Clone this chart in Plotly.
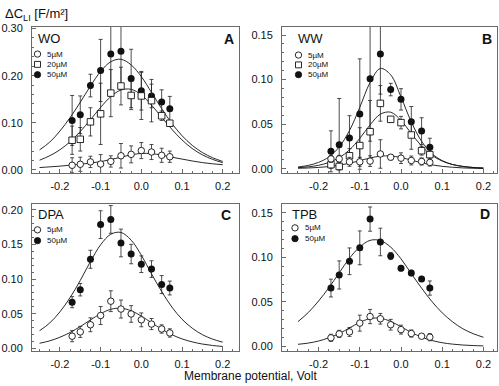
import plotly.graph_objects as go

# ---------------- data ----------------
x_pts = [-0.17, -0.15, -0.125, -0.1, -0.075, -0.05, -0.025, 0.0, 0.025, 0.05, 0.07]
x_fit = [-0.25, -0.225, -0.2, -0.175, -0.15, -0.125, -0.1, -0.075, -0.05, -0.025,
         0.0, 0.025, 0.05, 0.075, 0.1, 0.125, 0.15, 0.175, 0.2]

# Panel A (WO)
wo_5 = [0.0098, 0.012, 0.017, 0.0125, 0.018, 0.030, 0.033, 0.041, 0.038, 0.031, 0.028]
wo_5_err = [0.016, 0.015, 0.012, 0.02, 0.012, 0.026, 0.018, 0.017, 0.016, 0.015, 0.012]
wo_20 = [0.063, 0.065, 0.102, 0.119, 0.163, 0.178, 0.158, 0.157, 0.147, 0.115, 0.099]
wo_20_err = [0.03, 0.025, 0.03, 0.065, 0.05, 0.04, 0.03, 0.05, 0.045, 0.01, 0.005]
wo_50 = [0.105, 0.117, 0.179, 0.211, 0.246, 0.252, 0.194, 0.168, 0.157, 0.144, 0.130]
wo_50_err = [0.053, 0.04, 0.024, 0.066, 0.08, 0.08, 0.062, 0.041, 0.025, 0.026, 0.026]
wo_5_fit = [0.005, 0.0065, 0.008, 0.010, 0.012, 0.0145, 0.0175, 0.022, 0.027, 0.032,
            0.035, 0.0345, 0.0315, 0.027, 0.023, 0.019, 0.0155, 0.013, 0.011]
wo_20_fit = [0.0206, 0.0301, 0.0427, 0.0599, 0.0815, 0.1065, 0.1328, 0.1555, 0.1696, 0.171,
             0.1593, 0.1376, 0.1118, 0.0862, 0.0636, 0.0454, 0.032, 0.0224, 0.0153]
wo_50_fit = [0.0425, 0.059, 0.0825, 0.111, 0.1436, 0.178, 0.209, 0.2296, 0.2348, 0.2228,
             0.198, 0.1645, 0.130, 0.0987, 0.0726, 0.0522, 0.0369, 0.0259, 0.0179]

# Panel B (WW)
ww_5 = [0.011, 0.011, 0.0077, 0.0077, 0.0085, 0.0165, 0.0129, 0.0118, 0.0092, 0.0081, 0.007]
ww_5_err = [0.004, 0.004, 0.005, 0.005, 0.006, 0.016, 0.003, 0.006, 0.005, 0.004, 0.004]
ww_20 = [0.0045, 0.0025, 0.0145, 0.026, 0.0415, 0.0733, 0.0554, 0.0517, 0.0378, 0.0202, 0.0158]
ww_20_err = [0.004, 0.004, 0.008, 0.02, 0.035, 0.02, 0.003, 0.007, 0.016, 0.005, 0.005]
ww_50 = [0.0195, 0.0268, 0.0345, 0.0613, 0.1009, 0.1287, 0.0888, 0.0778, 0.0528, 0.0422, 0.0242]
ww_50_err = [0.023, 0.052, 0.025, 0.062, 0.07, 0.045, 0.007, 0.012, 0.017, 0.015, 0.010]
ww_5_fit = [0.0005, 0.0008, 0.0014, 0.0024, 0.0039, 0.0061, 0.009, 0.012, 0.0141, 0.0143,
            0.0125, 0.0096, 0.0066, 0.0043, 0.0026, 0.0016, 0.0009, 0.0005, 0.0003]
ww_20_fit = [0.0011, 0.0021, 0.0038, 0.0070, 0.0123, 0.0211, 0.0340, 0.0492, 0.0612, 0.0634,
             0.0542, 0.0396, 0.0254, 0.0150, 0.0086, 0.0047, 0.0026, 0.0014, 0.0008]
ww_50_fit = [0.0019, 0.0037, 0.0071, 0.0132, 0.0244, 0.0428, 0.0689, 0.0967, 0.1125, 0.1053,
             0.0805, 0.0525, 0.0307, 0.0171, 0.009, 0.0047, 0.0025, 0.0013, 0.0006]

# Panel C (DPA)
dpa_5 = [0.0175, 0.0237, 0.034, 0.0473, 0.068, 0.0567, 0.0496, 0.0411, 0.035, 0.0279, 0.0222]
dpa_5_err = [0.008, 0.008, 0.01, 0.013, 0.015, 0.013, 0.012, 0.01, 0.008, 0.006, 0.006]
dpa_50 = [0.0666, 0.0846, 0.1285, 0.1785, 0.186, 0.152, 0.136, 0.1214, 0.1143, 0.092, 0.087]
dpa_50_err = [0.008, 0.009, 0.013, 0.02, 0.02, 0.02, 0.014, 0.012, 0.012, 0.013, 0.01]
dpa_5_fit = [0.0073, 0.0108, 0.016, 0.0229, 0.0314, 0.0409, 0.05, 0.0563, 0.0579, 0.0542,
             0.0465, 0.037, 0.0277, 0.0197, 0.0136, 0.0093, 0.0062, 0.0041, 0.0027]
dpa_50_fit = [0.0254, 0.0366, 0.0526, 0.0732, 0.098, 0.1252, 0.1494, 0.1646, 0.1672, 0.1561,
              0.1344, 0.1075, 0.082, 0.0596, 0.042, 0.0291, 0.0197, 0.0133, 0.0089]

# Panel D (TPB)
tpb_5 = [0.0096, 0.014, 0.0162, 0.0261, 0.0335, 0.031, 0.0243, 0.0188, 0.0144, 0.0114, 0.0103]
tpb_5_err = [0.004, 0.004, 0.005, 0.009, 0.008, 0.006, 0.006, 0.005, 0.004, 0.002, 0.004]
tpb_50 = [0.0655, 0.0802, 0.0956, 0.1107, 0.143, 0.1173, 0.1015, 0.0879, 0.0824, 0.0758, 0.0655]
tpb_50_err = [0.01, 0.0158, 0.015, 0.019, 0.0136, 0.0155, 0.004, 0.003, 0.003, 0.002, 0.008]
tpb_5_fit = [0.0023, 0.0037, 0.006, 0.0096, 0.0144, 0.0207, 0.0269, 0.0312, 0.0316, 0.028,
             0.022, 0.0157, 0.0104, 0.0066, 0.0041, 0.0025, 0.0015, 0.0009, 0.0005]
tpb_50_fit = [0.0278, 0.038, 0.051, 0.0659, 0.0826, 0.099, 0.1117, 0.1191, 0.1189, 0.1115,
              0.0983, 0.0817, 0.0654, 0.0504, 0.0377, 0.0276, 0.0198, 0.0143, 0.0102]

panel_names = ["WO", "WW", "DPA", "TPB"]
panel_letters = ["A", "B", "C", "D"]
conc_labels = ["5\u00b5M", "20\u00b5M", "50\u00b5M"]
x_tickvals = [-0.2, -0.1, 0.0, 0.1, 0.2]
x_ticktext = ["-0.2", "-0.1", "0.0", "0.1", "0.2"]
yA_ticks = [0.0, 0.1, 0.2, 0.3]
yB_ticks = [0.0, 0.05, 0.10, 0.15]
yC_ticks = [0.0, 0.05, 0.10, 0.15, 0.20]
yD_ticks = [0.0, 0.05, 0.10, 0.15]

# ---------------- figure ----------------
W, H = 499, 386
FONT = "Arial, Liberation Sans, Helvetica, sans-serif"
INK = "#111111"
AX = "#6a6a6a"

def px(x):
    return x / W

def py(y):
    return 1 - y / H

fig = go.Figure()

axes = [("x", "y"), ("x2", "y2"), ("x3", "y3"), ("x4", "y4")]

def add_curve(i, xs, ys):
    xa, ya = axes[i]
    fig.add_trace(go.Scatter(x=xs, y=ys, mode="lines", xaxis=xa, yaxis=ya,
                             line=dict(color=INK, width=0.9, shape="spline", smoothing=1.0),
                             showlegend=False, hoverinfo="skip"))

def add_points(i, ys, err, kind):
    xa, ya = axes[i]
    if kind == "filled":
        marker = dict(symbol="circle", size=7, color=INK, line=dict(color=INK, width=0))
    elif kind == "circle":
        marker = dict(symbol="circle", size=6.5, color="white", line=dict(color=INK, width=0.9))
    else:
        marker = dict(symbol="square", size=6.5, color="white", line=dict(color=INK, width=0.9))
    fig.add_trace(go.Scatter(x=x_pts, y=ys, mode="markers", xaxis=xa, yaxis=ya,
                             marker=marker,
                             error_y=dict(type="data", array=err, visible=True,
                                          color="#222222", thickness=0.8, width=2),
                             showlegend=False, hoverinfo="skip"))

# Panel A
add_curve(0, x_fit, wo_5_fit)
add_curve(0, x_fit, wo_20_fit)
add_curve(0, x_fit, wo_50_fit)
add_points(0, wo_50, wo_50_err, "filled")
add_points(0, wo_20, wo_20_err, "square")
add_points(0, wo_5, wo_5_err, "circle")
# Panel B
add_curve(1, x_fit, ww_5_fit)
add_curve(1, x_fit, ww_20_fit)
add_curve(1, x_fit, ww_50_fit)
add_points(1, ww_50, ww_50_err, "filled")
add_points(1, ww_20, ww_20_err, "square")
add_points(1, ww_5, ww_5_err, "circle")
# Panel C
add_curve(2, x_fit, dpa_5_fit)
add_curve(2, x_fit, dpa_50_fit)
add_points(2, dpa_50, dpa_50_err, "filled")
add_points(2, dpa_5, dpa_5_err, "circle")
# Panel D
add_curve(3, x_fit, tpb_5_fit)
add_curve(3, x_fit, tpb_50_fit)
add_points(3, tpb_50, tpb_50_err, "filled")
add_points(3, tpb_5, tpb_5_err, "circle")

left_x = (32, 239)
right_x = (282, 497)
top_y = (23, 172)
bot_y = (203.3, 353.3)

def xax(dom, rng, anchor):
    return dict(domain=[px(dom[0]), px(dom[1])], range=rng, anchor=anchor,
                showline=True, mirror=True, linecolor=AX, linewidth=1,
                ticks="inside", ticklen=4, tickcolor=AX, tickwidth=1,
                tickmode="array", tickvals=x_tickvals, ticktext=x_ticktext,
                minor=dict(dtick=0.025, tick0=0, ticks="inside", ticklen=2, tickcolor=AX, showgrid=False),
                showgrid=False, zeroline=False,
                tickfont=dict(family=FONT, size=11, color=INK), ticklabelstandoff=3)

def yax(dom, rng, anchor, tv, fmt, minor_dt):
    return dict(domain=[py(dom[1]), py(dom[0])], range=rng, anchor=anchor,
                showline=True, mirror=True, linecolor=AX, linewidth=1,
                ticks="inside", ticklen=4, tickcolor=AX, tickwidth=1,
                tickmode="array", tickvals=tv, ticktext=[fmt.format(v) for v in tv],
                minor=dict(dtick=minor_dt, tick0=0, ticks="inside", ticklen=2, tickcolor=AX, showgrid=False),
                showgrid=False, zeroline=False,
                tickfont=dict(family=FONT, size=11, color=INK), ticklabelstandoff=6)

fig.update_layout(
    width=W, height=H,
    margin=dict(l=0, r=0, t=0, b=0),
    paper_bgcolor="white", plot_bgcolor="white",
    showlegend=False,
    xaxis=xax(left_x, [-0.2686, 0.240], "y"),
    yaxis=yax(top_y, [-0.0063, 0.3042], "x", yA_ticks, "{:.2f}", 0.02),
    xaxis2=xax(right_x, [-0.2888, 0.233], "y2"),
    yaxis2=yax(top_y, [-0.0047, 0.1595], "x2", yB_ticks, "{:.2f}", 0.01),
    xaxis3=xax(left_x, [-0.2686, 0.240], "y3"),
    yaxis3=yax(bot_y, [-0.0037, 0.2088], "x3", yC_ticks, "{:.2f}", 0.01),
    xaxis4=xax(right_x, [-0.2888, 0.233], "y4"),
    yaxis4=yax(bot_y, [-0.0051, 0.1604], "x4", yD_ticks, "{:.2f}", 0.01),
)

ann = []
ann.append(dict(text="\u0394C<sub>LI</sub> [F/m\u00b2]", x=px(3), y=py(11), xref="paper", yref="paper",
                xanchor="left", yanchor="middle", showarrow=False,
                font=dict(family=FONT, size=13, color=INK)))
ann.append(dict(text="Membrane potential, Volt", x=px(251), y=py(379), xref="paper", yref="paper",
                xanchor="center", yanchor="middle", showarrow=False,
                font=dict(family=FONT, size=12, color=INK)))
letter_pos = [(229, 36), (487, 36), (226, 215), (485, 214)]
for L, (lx, ly) in zip(panel_letters, letter_pos):
    ann.append(dict(text="<b>%s</b>" % L, x=px(lx), y=py(ly), xref="paper", yref="paper",
                    xanchor="center", yanchor="middle", showarrow=False,
                    font=dict(family=FONT, size=14, color=INK)))
name_pos = [(36, 35), (296, 35), (36, 214), (290, 214)]
for nm, (nx, ny) in zip(panel_names, name_pos):
    ann.append(dict(text=nm, x=px(nx), y=py(ny), xref="paper", yref="paper",
                    xanchor="left", yanchor="middle", showarrow=False,
                    font=dict(family=FONT, size=13, color=INK)))

shapes = []
def legend_entry(sx, tx, y, kind, label):
    r = 3.2
    if kind == "filled":
        shapes.append(dict(type="circle", xref="paper", yref="paper",
                           x0=px(sx - r), x1=px(sx + r), y0=py(y + r), y1=py(y - r),
                           fillcolor=INK, line=dict(color=INK, width=0.8)))
    elif kind == "circle":
        shapes.append(dict(type="circle", xref="paper", yref="paper",
                           x0=px(sx - r), x1=px(sx + r), y0=py(y + r), y1=py(y - r),
                           fillcolor="white", line=dict(color=INK, width=0.9)))
    else:
        shapes.append(dict(type="rect", xref="paper", yref="paper",
                           x0=px(sx - 3), x1=px(sx + 3), y0=py(y + 3), y1=py(y - 3),
                           fillcolor="white", line=dict(color=INK, width=0.9)))
    ann.append(dict(text=label, x=px(tx), y=py(y), xref="paper", yref="paper",
                    xanchor="left", yanchor="middle", showarrow=False,
                    font=dict(family=FONT, size=8, color=INK)))

legend_entry(37.5, 45, 51, "circle", conc_labels[0])
legend_entry(37.5, 45, 61.5, "square", conc_labels[1])
legend_entry(37.5, 45, 72, "filled", conc_labels[2])
legend_entry(298.5, 306, 52, "circle", conc_labels[0])
legend_entry(298.5, 306, 62, "square", conc_labels[1])
legend_entry(298.5, 306, 72, "filled", conc_labels[2])
legend_entry(37.5, 45, 230, "circle", conc_labels[0])
legend_entry(37.5, 45, 241, "filled", conc_labels[2])
legend_entry(295, 302.5, 228, "circle", conc_labels[0])
legend_entry(295, 302.5, 239, "filled", conc_labels[2])

fig.update_layout(annotations=ann, shapes=shapes)

fig.write_html("out.html",
               config={"displayModeBar": False},
               post_script="document.body.style.margin='0';document.body.style.overflow='hidden';")
